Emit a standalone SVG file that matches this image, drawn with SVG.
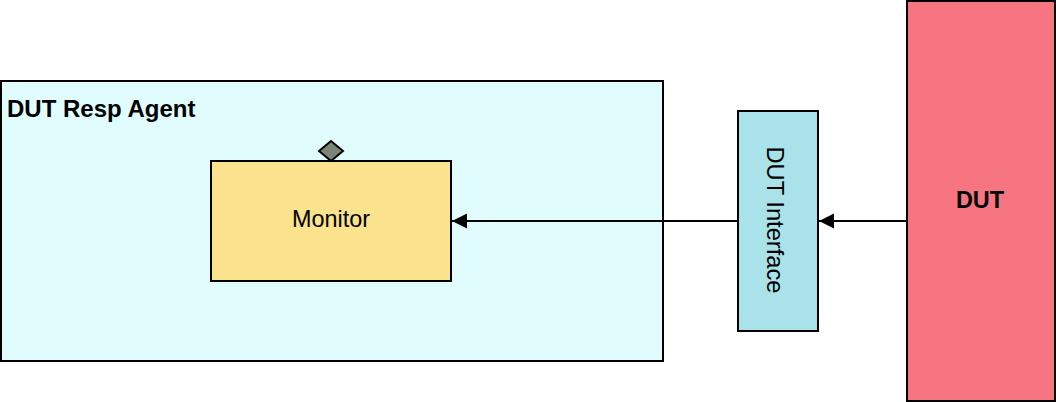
<svg xmlns="http://www.w3.org/2000/svg" width="1056" height="402" viewBox="0 0 1056 402">
<style>
.box{stroke:#000;stroke-width:2}
.t{font-family:"Liberation Sans",Arial,sans-serif;font-size:23.4px;fill:#000}
.b{font-weight:bold}
.conn{stroke:#000;stroke-width:2;fill:none}
</style>
<defs>
<marker id="arr" markerUnits="userSpaceOnUse" markerWidth="18" markerHeight="18" refX="16" refY="9" orient="auto">
<path d="M1,1.5 L16,9 L1,16.5 Z" fill="#000"/>
</marker>
</defs>
<rect width="1056" height="402" fill="#fff"/>
<g id="agent">
<rect class="box" x="1" y="81" width="662" height="280" fill="#E0FCFC"/>
<text class="t b" x="7" y="117" style="font-size:24px">DUT Resp Agent</text>
</g>
<g id="monitor">
<rect class="box" x="211" y="161" width="240" height="120" fill="#FBE28C"/>
<text class="t" x="331" y="227" text-anchor="middle">Monitor</text>
</g>
<g id="port">
<path class="box" d="M319,151 L331,141 L343,151 L331,161 Z" fill="#798679"/>
</g>
<g id="interface">
<rect class="box" x="738" y="111" width="80" height="220" fill="#A9E3E9"/>
<text class="t" transform="translate(767,220) rotate(90)" text-anchor="middle" style="font-size:23.7px">DUT Interface</text>
</g>
<g id="dut">
<rect class="box" x="907" y="1" width="148" height="400" fill="#F67581"/>
<text class="t b" x="980" y="208" text-anchor="middle">DUT</text>
</g>
<g id="connectors">
<line class="conn" x1="907" y1="221" x2="819" y2="221" marker-end="url(#arr)"/>
<line class="conn" x1="738" y1="221" x2="452" y2="221" marker-end="url(#arr)"/>
</g>
</svg>
